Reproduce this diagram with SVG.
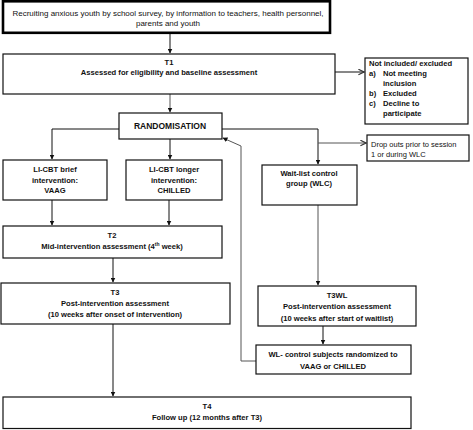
<svg xmlns="http://www.w3.org/2000/svg" width="473" height="430" viewBox="0 0 473 430">
<defs>
<style>
.box{fill:#fff;stroke:#111;stroke-width:1.2}
.thick{fill:#fff;stroke:#000;stroke-width:2.6}
.t{font-family:"Liberation Sans",Arial,sans-serif;font-size:8px;fill:#111;text-anchor:middle}
.b{font-weight:bold;font-size:7.6px}
.l{text-anchor:start}
.s{font-size:7.5px}
.c{fill:none;stroke:#111;stroke-width:1}
.g{fill:none;stroke:#555;stroke-width:1}
</style>
<marker id="ah" viewBox="0 0 10 10" refX="9" refY="5" markerWidth="5" markerHeight="5" orient="auto" markerUnits="userSpaceOnUse">
<path d="M0,0 L10,5 L0,10 z" fill="#111"/>
</marker>
<marker id="oh" viewBox="0 0 10 10" refX="9" refY="5" markerWidth="7" markerHeight="7" orient="auto" markerUnits="userSpaceOnUse">
<path d="M1,1 L9,5 L1,9" fill="none" stroke="#333" stroke-width="1.6"/>
</marker>
</defs>
<rect width="473" height="430" fill="#fff"/>

<g id="connectors">
<line class="c" x1="170" y1="33" x2="170" y2="53" marker-end="url(#ah)"/>
<line class="c" x1="335" y1="72" x2="364" y2="72" marker-end="url(#oh)"/>
<line class="g" x1="170" y1="94" x2="170" y2="112" marker-end="url(#ah)"/>
<polyline class="c" points="119,129 52,129 52,159" marker-end="url(#ah)"/>
<line class="c" x1="170" y1="139" x2="170" y2="159" marker-end="url(#ah)"/>
<polyline class="c" points="222,129 318,129 318,164" marker-end="url(#ah)"/>
<line class="g" x1="318" y1="143" x2="366" y2="143" marker-end="url(#oh)"/>
<line class="c" x1="52" y1="200" x2="52" y2="225" marker-end="url(#ah)"/>
<line class="c" x1="169" y1="200" x2="169" y2="225" marker-end="url(#ah)"/>
<line class="c" x1="113" y1="258" x2="113" y2="282" marker-end="url(#ah)"/>
<line class="c" x1="113" y1="324" x2="113" y2="396" marker-end="url(#ah)"/>
<line class="g" x1="318" y1="205" x2="318" y2="285" marker-end="url(#ah)"/>
<line class="c" x1="323" y1="326" x2="323" y2="344" marker-end="url(#ah)"/>
<polyline class="g" points="256,361 241,361 241,146 223,138" marker-end="url(#ah)"/>
</g>

<g id="recruit">
<rect class="thick" x="3" y="1.3" width="327" height="31.5"/>
<text class="t" x="168" y="16">Recruiting anxious youth by school survey, by information to teachers, health personnel,</text>
<text class="t" x="168" y="26">parents and youth</text>
</g>

<g id="t1">
<rect class="box" x="3" y="54" width="332" height="40"/>
<text class="t b" x="169" y="65">T1</text>
<text class="t b" x="169" y="75">Assessed for eligibility and baseline assessment</text>
</g>

<g id="excluded">
<rect class="box" x="365" y="58" width="103" height="66"/>
<text class="t b l" x="369" y="66">Not included/ excluded</text>
<text class="t b l" x="369" y="76">a)</text>
<text class="t b l" x="383" y="76">Not meeting</text>
<text class="t b l" x="383" y="86">inclusion</text>
<text class="t b l" x="369" y="96">b)</text>
<text class="t b l" x="383" y="96">Excluded</text>
<text class="t b l" x="369" y="106">c)</text>
<text class="t b l" x="383" y="106">Decline to</text>
<text class="t b l" x="383" y="116">participate</text>
</g>

<g id="randomisation">
<rect class="box" x="119" y="113" width="103" height="26"/>
<text class="t b" x="170" y="129" style="font-size:8.5px">RANDOMISATION</text>
</g>

<g id="vaag">
<rect class="box" x="3" y="160" width="104" height="40"/>
<text class="t b" x="55" y="172">LI-CBT brief</text>
<text class="t b" x="55" y="182.5">intervention:</text>
<text class="t b" x="55" y="193">VAAG</text>
</g>

<g id="chilled">
<rect class="box" x="126" y="160" width="96" height="40"/>
<text class="t b" x="174" y="172">LI-CBT longer</text>
<text class="t b" x="174" y="182.5">intervention:</text>
<text class="t b" x="174" y="193">CHILLED</text>
</g>

<g id="dropouts">
<rect class="box" x="367" y="135" width="102" height="26"/>
<text class="t l s" x="371" y="147">Drop outs prior to session</text>
<text class="t l s" x="371" y="157">1 or during WLC</text>
</g>

<g id="wlc">
<rect class="box" x="262" y="165" width="95" height="40"/>
<text class="t b" x="309" y="176">Wait-list control</text>
<text class="t b" x="309" y="186">group (WLC)</text>
</g>

<g id="t2">
<rect class="box" x="3" y="226" width="219" height="32"/>
<text class="t b" x="112" y="238">T2</text>
<text class="t b" x="112" y="249">Mid-intervention assessment (4<tspan dy="-3" style="font-size:5px">th</tspan><tspan dy="3"> week)</tspan></text>
</g>

<g id="t3">
<rect class="box" x="1" y="283" width="229" height="41"/>
<text class="t b" x="115" y="295">T3</text>
<text class="t b" x="115" y="305.5">Post-intervention assessment</text>
<text class="t b" x="115" y="316.5">(10 weeks after onset of intervention)</text>
</g>

<g id="t3wl">
<rect class="box" x="258" y="286" width="158" height="40"/>
<text class="t b" x="337" y="298">T3WL</text>
<text class="t b" x="337" y="309">Post-intervention assessment</text>
<text class="t b" x="337" y="321">(10 weeks after start of waitlist)</text>
</g>

<g id="wlrand">
<rect class="box" x="256" y="345" width="155" height="29"/>
<text class="t b" x="333" y="357">WL- control subjects randomized to</text>
<text class="t b" x="333" y="369">VAAG or CHILLED</text>
</g>

<g id="t4">
<rect class="box" x="3" y="397" width="408" height="31.5"/>
<text class="t b" x="207" y="408.5">T4</text>
<text class="t b" x="207" y="419.5">Follow up (12 months after T3)</text>
</g>
</svg>
